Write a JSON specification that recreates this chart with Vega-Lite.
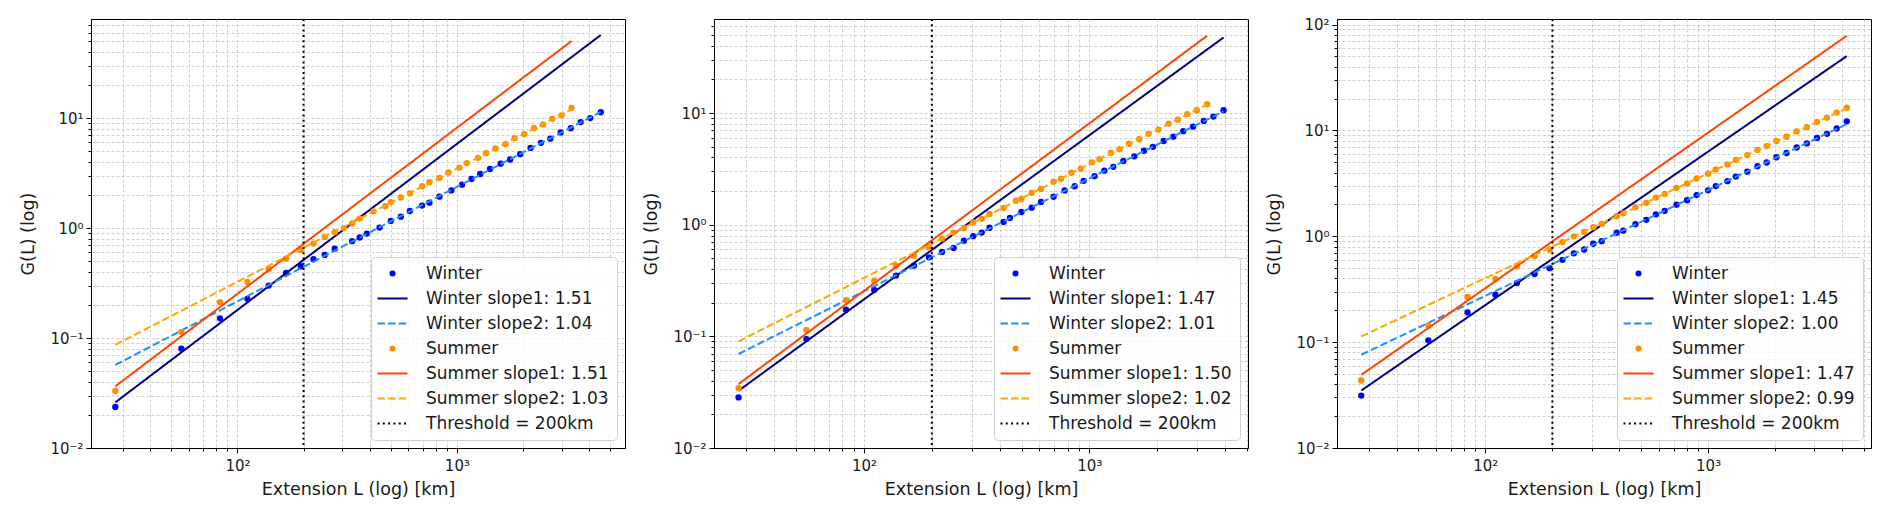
{
  "$schema": "https://vega.github.io/schema/vega-lite/v6.json",
  "padding": {"left": 19, "top": 17, "right": 5, "bottom": 5},
  "background": "white",
  "spacing": 89,
  "bounds": "flush",
  "resolve": {"scale": {"color": "independent", "strokeDash": "independent", "x": "independent", "y": "independent"}, "legend": {"color": "independent"}},
  "datasets": {
    "pts": [
      {"p":1,"s":"Winter","L":27.75,"G":0.0236},{"p":1,"s":"Winter","L":55.5,"G":0.080},{"p":1,"s":"Winter","L":83.25,"G":0.151},{"p":1,"s":"Winter","L":111,"G":0.227},{"p":1,"s":"Winter","L":138.75,"G":0.30},{"p":1,"s":"Winter","L":166.5,"G":0.39},{"p":1,"s":"Winter","L":194.25,"G":0.45},{"p":1,"s":"Winter","L":222,"G":0.52},{"p":1,"s":"Winter","L":249.75,"G":0.57},{"p":1,"s":"Winter","L":277.5,"G":0.65},{"p":1,"s":"Winter","L":333,"G":0.76},{"p":1,"s":"Winter","L":360.75,"G":0.82},{"p":1,"s":"Winter","L":388.5,"G":0.89},{"p":1,"s":"Winter","L":444,"G":1.01},{"p":1,"s":"Winter","L":499.5,"G":1.16},{"p":1,"s":"Winter","L":555,"G":1.27},{"p":1,"s":"Winter","L":610.5,"G":1.43},{"p":1,"s":"Winter","L":693.75,"G":1.60},{"p":1,"s":"Winter","L":749.25,"G":1.70},{"p":1,"s":"Winter","L":832.5,"G":1.93},{"p":1,"s":"Winter","L":943.5,"G":2.20},{"p":1,"s":"Winter","L":1054.5,"G":2.48},{"p":1,"s":"Winter","L":1165.5,"G":2.80},{"p":1,"s":"Winter","L":1276.5,"G":3.10},{"p":1,"s":"Winter","L":1415.25,"G":3.45},{"p":1,"s":"Winter","L":1581.75,"G":3.85},{"p":1,"s":"Winter","L":1748.25,"G":4.20},{"p":1,"s":"Winter","L":1942.5,"G":4.70},{"p":1,"s":"Winter","L":2164.5,"G":5.35},{"p":1,"s":"Winter","L":2414.25,"G":5.95},{"p":1,"s":"Winter","L":2664,"G":6.50},{"p":1,"s":"Winter","L":2969.25,"G":7.40},{"p":1,"s":"Winter","L":3302.25,"G":8.10},{"p":1,"s":"Winter","L":3663,"G":9.20},{"p":1,"s":"Winter","L":4051.5,"G":10.0},{"p":1,"s":"Winter","L":4523.25,"G":11.3},
      {"p":1,"s":"Summer","L":27.75,"G":0.033},{"p":1,"s":"Summer","L":55.5,"G":0.113},{"p":1,"s":"Summer","L":83.25,"G":0.212},{"p":1,"s":"Summer","L":111,"G":0.323},{"p":1,"s":"Summer","L":138.75,"G":0.426},{"p":1,"s":"Summer","L":166.5,"G":0.528},{"p":1,"s":"Summer","L":194.25,"G":0.63},{"p":1,"s":"Summer","L":222,"G":0.723},{"p":1,"s":"Summer","L":249.75,"G":0.827},{"p":1,"s":"Summer","L":277.5,"G":0.918},{"p":1,"s":"Summer","L":305.25,"G":1.00},{"p":1,"s":"Summer","L":333,"G":1.10},{"p":1,"s":"Summer","L":360.75,"G":1.22},{"p":1,"s":"Summer","L":416.25,"G":1.42},{"p":1,"s":"Summer","L":471.75,"G":1.58},{"p":1,"s":"Summer","L":499.5,"G":1.72},{"p":1,"s":"Summer","L":555,"G":1.90},{"p":1,"s":"Summer","L":610.5,"G":2.07},{"p":1,"s":"Summer","L":693.75,"G":2.40},{"p":1,"s":"Summer","L":749.25,"G":2.61},{"p":1,"s":"Summer","L":832.5,"G":2.85},{"p":1,"s":"Summer","L":915.75,"G":3.20},{"p":1,"s":"Summer","L":1026.75,"G":3.55},{"p":1,"s":"Summer","L":1110,"G":3.90},{"p":1,"s":"Summer","L":1248.75,"G":4.35},{"p":1,"s":"Summer","L":1359.75,"G":4.80},{"p":1,"s":"Summer","L":1498.5,"G":5.30},{"p":1,"s":"Summer","L":1665,"G":5.80},{"p":1,"s":"Summer","L":1831.5,"G":6.55},{"p":1,"s":"Summer","L":2025.75,"G":7.15},{"p":1,"s":"Summer","L":2247.75,"G":8.10},{"p":1,"s":"Summer","L":2469.75,"G":8.75},{"p":1,"s":"Summer","L":2719.5,"G":9.85},{"p":1,"s":"Summer","L":2997,"G":10.6},{"p":1,"s":"Summer","L":3330,"G":12.4},
      {"p":2,"s":"Winter","L":27.75,"G":0.0284},{"p":2,"s":"Winter","L":55.5,"G":0.0946},{"p":2,"s":"Winter","L":83.25,"G":0.173},{"p":2,"s":"Winter","L":111,"G":0.26},{"p":2,"s":"Winter","L":138.75,"G":0.35},{"p":2,"s":"Winter","L":166.5,"G":0.43},{"p":2,"s":"Winter","L":194.25,"G":0.51},{"p":2,"s":"Winter","L":222,"G":0.57},{"p":2,"s":"Winter","L":249.75,"G":0.62},{"p":2,"s":"Winter","L":277.5,"G":0.72},{"p":2,"s":"Winter","L":305.25,"G":0.79},{"p":2,"s":"Winter","L":333,"G":0.85},{"p":2,"s":"Winter","L":360.75,"G":0.94},{"p":2,"s":"Winter","L":416.25,"G":1.06},{"p":2,"s":"Winter","L":444,"G":1.15},{"p":2,"s":"Winter","L":499.5,"G":1.30},{"p":2,"s":"Winter","L":555,"G":1.42},{"p":2,"s":"Winter","L":610.5,"G":1.60},{"p":2,"s":"Winter","L":693.75,"G":1.78},{"p":2,"s":"Winter","L":777,"G":2.03},{"p":2,"s":"Winter","L":860.25,"G":2.21},{"p":2,"s":"Winter","L":943.5,"G":2.47},{"p":2,"s":"Winter","L":1054.5,"G":2.72},{"p":2,"s":"Winter","L":1165.5,"G":3.05},{"p":2,"s":"Winter","L":1276.5,"G":3.30},{"p":2,"s":"Winter","L":1415.25,"G":3.72},{"p":2,"s":"Winter","L":1581.75,"G":4.10},{"p":2,"s":"Winter","L":1748.25,"G":4.60},{"p":2,"s":"Winter","L":1914.75,"G":4.98},{"p":2,"s":"Winter","L":2136.75,"G":5.62},{"p":2,"s":"Winter","L":2358.75,"G":6.15},{"p":2,"s":"Winter","L":2608.5,"G":6.88},{"p":2,"s":"Winter","L":2886,"G":7.55},{"p":2,"s":"Winter","L":3219,"G":8.50},{"p":2,"s":"Winter","L":3552,"G":9.30},{"p":2,"s":"Winter","L":3940.5,"G":10.6},
      {"p":2,"s":"Summer","L":27.75,"G":0.0344},{"p":2,"s":"Summer","L":55.5,"G":0.114},{"p":2,"s":"Summer","L":83.25,"G":0.211},{"p":2,"s":"Summer","L":111,"G":0.315},{"p":2,"s":"Summer","L":138.75,"G":0.43},{"p":2,"s":"Summer","L":166.5,"G":0.528},{"p":2,"s":"Summer","L":194.25,"G":0.627},{"p":2,"s":"Summer","L":222,"G":0.75},{"p":2,"s":"Summer","L":249.75,"G":0.85},{"p":2,"s":"Summer","L":277.5,"G":0.93},{"p":2,"s":"Summer","L":305.25,"G":1.05},{"p":2,"s":"Summer","L":333,"G":1.13},{"p":2,"s":"Summer","L":360.75,"G":1.25},{"p":2,"s":"Summer","L":416.25,"G":1.41},{"p":2,"s":"Summer","L":471.75,"G":1.64},{"p":2,"s":"Summer","L":499.5,"G":1.70},{"p":2,"s":"Summer","L":555,"G":1.93},{"p":2,"s":"Summer","L":610.5,"G":2.09},{"p":2,"s":"Summer","L":693.75,"G":2.43},{"p":2,"s":"Summer","L":749.25,"G":2.58},{"p":2,"s":"Summer","L":832.5,"G":2.92},{"p":2,"s":"Summer","L":915.75,"G":3.17},{"p":2,"s":"Summer","L":1026.75,"G":3.62},{"p":2,"s":"Summer","L":1110,"G":3.86},{"p":2,"s":"Summer","L":1248.75,"G":4.41},{"p":2,"s":"Summer","L":1359.75,"G":4.74},{"p":2,"s":"Summer","L":1498.5,"G":5.31},{"p":2,"s":"Summer","L":1665,"G":5.83},{"p":2,"s":"Summer","L":1831.5,"G":6.52},{"p":2,"s":"Summer","L":2025.75,"G":7.12},{"p":2,"s":"Summer","L":2247.75,"G":8.05},{"p":2,"s":"Summer","L":2469.75,"G":8.72},{"p":2,"s":"Summer","L":2719.5,"G":9.80},{"p":2,"s":"Summer","L":2997,"G":10.6},{"p":2,"s":"Summer","L":3330,"G":12.0},
      {"p":3,"s":"Winter","L":27.75,"G":0.0313},{"p":3,"s":"Winter","L":55.5,"G":0.104},{"p":3,"s":"Winter","L":83.25,"G":0.191},{"p":3,"s":"Winter","L":111,"G":0.281},{"p":3,"s":"Winter","L":138.75,"G":0.362},{"p":3,"s":"Winter","L":166.5,"G":0.44},{"p":3,"s":"Winter","L":194.25,"G":0.50},{"p":3,"s":"Winter","L":222,"G":0.60},{"p":3,"s":"Winter","L":249.75,"G":0.69},{"p":3,"s":"Winter","L":277.5,"G":0.75},{"p":3,"s":"Winter","L":305.25,"G":0.85},{"p":3,"s":"Winter","L":333,"G":0.90},{"p":3,"s":"Winter","L":388.5,"G":1.08},{"p":3,"s":"Winter","L":416.25,"G":1.13},{"p":3,"s":"Winter","L":471.75,"G":1.30},{"p":3,"s":"Winter","L":527.25,"G":1.43},{"p":3,"s":"Winter","L":582.75,"G":1.61},{"p":3,"s":"Winter","L":638.25,"G":1.74},{"p":3,"s":"Winter","L":721.5,"G":1.99},{"p":3,"s":"Winter","L":804.75,"G":2.19},{"p":3,"s":"Winter","L":888,"G":2.45},{"p":3,"s":"Winter","L":999,"G":2.72},{"p":3,"s":"Winter","L":1082.25,"G":2.98},{"p":3,"s":"Winter","L":1221,"G":3.32},{"p":3,"s":"Winter","L":1332,"G":3.67},{"p":3,"s":"Winter","L":1498.5,"G":4.08},{"p":3,"s":"Winter","L":1665,"G":4.60},{"p":3,"s":"Winter","L":1831.5,"G":4.98},{"p":3,"s":"Winter","L":2025.75,"G":5.58},{"p":3,"s":"Winter","L":2247.75,"G":6.12},{"p":3,"s":"Winter","L":2497.5,"G":6.90},{"p":3,"s":"Winter","L":2775,"G":7.55},{"p":3,"s":"Winter","L":3080.25,"G":8.50},{"p":3,"s":"Winter","L":3413.25,"G":9.30},{"p":3,"s":"Winter","L":3774,"G":10.45},{"p":3,"s":"Winter","L":4190.25,"G":12.2},
      {"p":3,"s":"Summer","L":27.75,"G":0.0434},{"p":3,"s":"Summer","L":55.5,"G":0.144},{"p":3,"s":"Summer","L":83.25,"G":0.267},{"p":3,"s":"Summer","L":111,"G":0.395},{"p":3,"s":"Summer","L":138.75,"G":0.521},{"p":3,"s":"Summer","L":166.5,"G":0.648},{"p":3,"s":"Summer","L":194.25,"G":0.75},{"p":3,"s":"Summer","L":222,"G":0.88},{"p":3,"s":"Summer","L":249.75,"G":1.00},{"p":3,"s":"Summer","L":277.5,"G":1.10},{"p":3,"s":"Summer","L":305.25,"G":1.22},{"p":3,"s":"Summer","L":333,"G":1.31},{"p":3,"s":"Summer","L":388.5,"G":1.55},{"p":3,"s":"Summer","L":416.25,"G":1.65},{"p":3,"s":"Summer","L":471.75,"G":1.88},{"p":3,"s":"Summer","L":527.25,"G":2.07},{"p":3,"s":"Summer","L":582.75,"G":2.32},{"p":3,"s":"Summer","L":638.25,"G":2.51},{"p":3,"s":"Summer","L":721.5,"G":2.87},{"p":3,"s":"Summer","L":804.75,"G":3.15},{"p":3,"s":"Summer","L":888,"G":3.52},{"p":3,"s":"Summer","L":999,"G":3.90},{"p":3,"s":"Summer","L":1082.25,"G":4.28},{"p":3,"s":"Summer","L":1221,"G":4.77},{"p":3,"s":"Summer","L":1332,"G":5.26},{"p":3,"s":"Summer","L":1498.5,"G":5.84},{"p":3,"s":"Summer","L":1665,"G":6.55},{"p":3,"s":"Summer","L":1831.5,"G":7.12},{"p":3,"s":"Summer","L":2025.75,"G":7.95},{"p":3,"s":"Summer","L":2247.75,"G":8.72},{"p":3,"s":"Summer","L":2497.5,"G":9.80},{"p":3,"s":"Summer","L":2775,"G":10.75},{"p":3,"s":"Summer","L":3080.25,"G":12.05},{"p":3,"s":"Summer","L":3413.25,"G":13.2},{"p":3,"s":"Summer","L":3774,"G":14.75},{"p":3,"s":"Summer","L":4190.25,"G":16.4}
    ],
    "fits": [
      {"p":1,"season":"W","kind":"s1","s":"Winter slope1: 1.51","L":27.75,"G":0.026},{"p":1,"season":"W","kind":"s1","s":"Winter slope1: 1.51","L":4523.25,"G":56.9},
      {"p":1,"season":"W","kind":"s2","s":"Winter slope2: 1.04","L":27.75,"G":0.0569},{"p":1,"season":"W","kind":"s2","s":"Winter slope2: 1.04","L":4523.25,"G":11.37},
      {"p":1,"season":"S","kind":"s1","s":"Summer slope1: 1.51","L":27.75,"G":0.0364},{"p":1,"season":"S","kind":"s1","s":"Summer slope1: 1.51","L":3330,"G":50.2},
      {"p":1,"season":"S","kind":"s2","s":"Summer slope2: 1.03","L":27.75,"G":0.0867},{"p":1,"season":"S","kind":"s2","s":"Summer slope2: 1.03","L":3330,"G":12.0},
      {"p":2,"season":"W","kind":"s1","s":"Winter slope1: 1.47","L":27.75,"G":0.0326},{"p":2,"season":"W","kind":"s1","s":"Winter slope1: 1.47","L":3940.5,"G":47.5},
      {"p":2,"season":"W","kind":"s2","s":"Winter slope2: 1.01","L":27.75,"G":0.0695},{"p":2,"season":"W","kind":"s2","s":"Winter slope2: 1.01","L":3940.5,"G":10.37},
      {"p":2,"season":"S","kind":"s1","s":"Summer slope1: 1.50","L":27.75,"G":0.0374},{"p":2,"season":"S","kind":"s1","s":"Summer slope1: 1.50","L":3330,"G":49.2},
      {"p":2,"season":"S","kind":"s2","s":"Summer slope2: 1.02","L":27.75,"G":0.0902},{"p":2,"season":"S","kind":"s2","s":"Summer slope2: 1.02","L":3330,"G":11.91},
      {"p":3,"season":"W","kind":"s1","s":"Winter slope1: 1.45","L":27.75,"G":0.0349},{"p":3,"season":"W","kind":"s1","s":"Winter slope1: 1.45","L":4190.25,"G":50.4},
      {"p":3,"season":"W","kind":"s2","s":"Winter slope2: 1.00","L":27.75,"G":0.076},{"p":3,"season":"W","kind":"s2","s":"Winter slope2: 1.00","L":4190.25,"G":11.48},
      {"p":3,"season":"S","kind":"s1","s":"Summer slope1: 1.47","L":27.75,"G":0.0491},{"p":3,"season":"S","kind":"s1","s":"Summer slope1: 1.47","L":4190.25,"G":78.4},
      {"p":3,"season":"S","kind":"s2","s":"Summer slope2: 0.99","L":27.75,"G":0.1132},{"p":3,"season":"S","kind":"s2","s":"Summer slope2: 0.99","L":4190.25,"G":16.26}
    ],
    "threshold": [{"L": 200, "s": "Threshold = 200km"}]
  },
  "hconcat": [
    {
      "width": 534,
      "height": 429,
      "encoding": {
        "x": {"field": "L", "type": "quantitative", "scale": {"type": "log", "domain": [21.5, 5834], "nice": false},
          "axis": {"title": "Extension L (log) [km]", "grid": true, "values": [30,40,50,60,70,80,90,100,200,300,400,500,600,700,800,900,1000,2000,3000,4000,5000],
            "labelExpr": "abs(log(datum.value)/LN10 - round(log(datum.value)/LN10)) < 0.001 ? '10' + ['⁻²','⁻¹','⁰','¹','²','³','⁴'][round(log(datum.value)/LN10) + 2] : ''",
            "tickSize": {"condition": {"test": "abs(log(datum.value)/LN10 - round(log(datum.value)/LN10)) < 0.001", "value": 5}, "value": 3}}},
        "color": {"field": "s", "type": "nominal",
          "scale": {"domain": ["Winter", "Winter slope1: 1.51", "Winter slope2: 1.04", "Summer", "Summer slope1: 1.51", "Summer slope2: 1.03", "Threshold = 200km"],
            "range": ["#0000ff", "#000080", "#1e90ff", "#ff8c00", "#ff4500", "#ffa500", "#000000"]},
          "legend": {"title": null, "orient": "bottom-right", "offset": 8,
            "encode": {"symbols": {"update": {
              "shape": {"signal": "(datum.value == 'Winter' || datum.value == 'Summer') ? 'circle' : 'stroke'"},
              "size": {"signal": "(datum.value == 'Winter' || datum.value == 'Summer') ? 36 : 900"},
              "fill": {"signal": "datum.value == 'Winter' ? '#0000ff' : datum.value == 'Summer' ? '#ff8c00' : 'transparent'"},
              "stroke": {"signal": "indexof(datum.value, 'Winter slope1') >= 0 ? '#000080' : indexof(datum.value, 'Winter slope2') >= 0 ? '#1e90ff' : indexof(datum.value, 'Summer slope1') >= 0 ? '#ff4500' : indexof(datum.value, 'Summer slope2') >= 0 ? '#ffa500' : datum.value == 'Winter' ? '#0000ff' : datum.value == 'Summer' ? '#ff8c00' : '#000000'"},
              "strokeDash": {"signal": "indexof(datum.value, 'slope2') >= 0 ? [7.4, 3.2] : indexof(datum.value, 'Threshold') >= 0 ? [2, 3.3] : [1, 0]"},
              "strokeWidth": {"signal": "(datum.value == 'Winter' || datum.value == 'Summer') ? 0 : 2"},
              "opacity": {"value": 1}
            }}}}}
      },
      "layer": [
        {"data": {"name": "pts"}, "transform": [{"filter": "datum.p == 1 && datum.s == 'Winter'"}],
          "mark": {"type": "point", "filled": true, "size": 40, "opacity": 1},
          "encoding": {"y": {"field": "G", "type": "quantitative", "scale": {"type": "log", "domain": [0.01, 79.6], "nice": false},
            "axis": {"title": "G(L) (log)", "grid": true, "values": [0.01,0.02,0.03,0.04,0.05,0.06,0.07,0.08,0.09,0.1,0.2,0.3,0.4,0.5,0.6,0.7,0.8,0.9,1,2,3,4,5,6,7,8,9,10,20,30,40,50,60,70],
              "labelExpr": "abs(log(datum.value)/LN10 - round(log(datum.value)/LN10)) < 0.001 ? '10' + ['⁻²','⁻¹','⁰','¹','²','³','⁴'][round(log(datum.value)/LN10) + 2] : ''",
              "tickSize": {"condition": {"test": "abs(log(datum.value)/LN10 - round(log(datum.value)/LN10)) < 0.001", "value": 5}, "value": 3}}}}},
        {"data": {"name": "fits"}, "transform": [{"filter": "datum.p == 1 && datum.season == 'W'"}],
          "mark": {"type": "line", "strokeWidth": 2},
          "encoding": {"y": {"field": "G", "type": "quantitative"},
            "strokeDash": {"field": "kind", "type": "nominal", "scale": {"domain": ["s1", "s2"], "range": [[1, 0], [7.4, 3.2]]}, "legend": null}}},
        {"data": {"name": "pts"}, "transform": [{"filter": "datum.p == 1 && datum.s == 'Summer'"}],
          "mark": {"type": "point", "filled": true, "size": 40, "opacity": 1},
          "encoding": {"y": {"field": "G", "type": "quantitative"}}},
        {"data": {"name": "fits"}, "transform": [{"filter": "datum.p == 1 && datum.season == 'S'"}],
          "mark": {"type": "line", "strokeWidth": 2},
          "encoding": {"y": {"field": "G", "type": "quantitative"},
            "strokeDash": {"field": "kind", "type": "nominal", "scale": {"domain": ["s1", "s2"], "range": [[1, 0], [7.4, 3.2]]}, "legend": null}}},
        {"data": {"name": "threshold"}, "mark": {"type": "rule", "strokeWidth": 2, "strokeDash": [2, 3.3]}, "encoding": {}}
      ]
    },
    {
      "width": 534,
      "height": 429,
      "encoding": {
        "x": {"field": "L", "type": "quantitative", "scale": {"type": "log", "domain": [21.6, 5058], "nice": false},
          "axis": {"title": "Extension L (log) [km]", "grid": true, "values": [30,40,50,60,70,80,90,100,200,300,400,500,600,700,800,900,1000,2000,3000,4000,5000],
            "labelExpr": "abs(log(datum.value)/LN10 - round(log(datum.value)/LN10)) < 0.001 ? '10' + ['⁻²','⁻¹','⁰','¹','²','³','⁴'][round(log(datum.value)/LN10) + 2] : ''",
            "tickSize": {"condition": {"test": "abs(log(datum.value)/LN10 - round(log(datum.value)/LN10)) < 0.001", "value": 5}, "value": 3}}},
        "color": {"field": "s", "type": "nominal",
          "scale": {"domain": ["Winter", "Winter slope1: 1.47", "Winter slope2: 1.01", "Summer", "Summer slope1: 1.50", "Summer slope2: 1.02", "Threshold = 200km"],
            "range": ["#0000ff", "#000080", "#1e90ff", "#ff8c00", "#ff4500", "#ffa500", "#000000"]},
          "legend": {"title": null, "orient": "bottom-right", "offset": 8,
            "encode": {"symbols": {"update": {
              "shape": {"signal": "(datum.value == 'Winter' || datum.value == 'Summer') ? 'circle' : 'stroke'"},
              "size": {"signal": "(datum.value == 'Winter' || datum.value == 'Summer') ? 36 : 900"},
              "fill": {"signal": "datum.value == 'Winter' ? '#0000ff' : datum.value == 'Summer' ? '#ff8c00' : 'transparent'"},
              "stroke": {"signal": "indexof(datum.value, 'Winter slope1') >= 0 ? '#000080' : indexof(datum.value, 'Winter slope2') >= 0 ? '#1e90ff' : indexof(datum.value, 'Summer slope1') >= 0 ? '#ff4500' : indexof(datum.value, 'Summer slope2') >= 0 ? '#ffa500' : datum.value == 'Winter' ? '#0000ff' : datum.value == 'Summer' ? '#ff8c00' : '#000000'"},
              "strokeDash": {"signal": "indexof(datum.value, 'slope2') >= 0 ? [7.4, 3.2] : indexof(datum.value, 'Threshold') >= 0 ? [2, 3.3] : [1, 0]"},
              "strokeWidth": {"signal": "(datum.value == 'Winter' || datum.value == 'Summer') ? 0 : 2"},
              "opacity": {"value": 1}
            }}}}}
      },
      "layer": [
        {"data": {"name": "pts"}, "transform": [{"filter": "datum.p == 2 && datum.s == 'Winter'"}],
          "mark": {"type": "point", "filled": true, "size": 40, "opacity": 1},
          "encoding": {"y": {"field": "G", "type": "quantitative", "scale": {"type": "log", "domain": [0.01, 69.6], "nice": false},
            "axis": {"title": "G(L) (log)", "grid": true, "values": [0.01,0.02,0.03,0.04,0.05,0.06,0.07,0.08,0.09,0.1,0.2,0.3,0.4,0.5,0.6,0.7,0.8,0.9,1,2,3,4,5,6,7,8,9,10,20,30,40,50,60],
              "labelExpr": "abs(log(datum.value)/LN10 - round(log(datum.value)/LN10)) < 0.001 ? '10' + ['⁻²','⁻¹','⁰','¹','²','³','⁴'][round(log(datum.value)/LN10) + 2] : ''",
              "tickSize": {"condition": {"test": "abs(log(datum.value)/LN10 - round(log(datum.value)/LN10)) < 0.001", "value": 5}, "value": 3}}}}},
        {"data": {"name": "fits"}, "transform": [{"filter": "datum.p == 2 && datum.season == 'W'"}],
          "mark": {"type": "line", "strokeWidth": 2},
          "encoding": {"y": {"field": "G", "type": "quantitative"},
            "strokeDash": {"field": "kind", "type": "nominal", "scale": {"domain": ["s1", "s2"], "range": [[1, 0], [7.4, 3.2]]}, "legend": null}}},
        {"data": {"name": "pts"}, "transform": [{"filter": "datum.p == 2 && datum.s == 'Summer'"}],
          "mark": {"type": "point", "filled": true, "size": 40, "opacity": 1},
          "encoding": {"y": {"field": "G", "type": "quantitative"}}},
        {"data": {"name": "fits"}, "transform": [{"filter": "datum.p == 2 && datum.season == 'S'"}],
          "mark": {"type": "line", "strokeWidth": 2},
          "encoding": {"y": {"field": "G", "type": "quantitative"},
            "strokeDash": {"field": "kind", "type": "nominal", "scale": {"domain": ["s1", "s2"], "range": [[1, 0], [7.4, 3.2]]}, "legend": null}}},
        {"data": {"name": "threshold"}, "mark": {"type": "rule", "strokeWidth": 2, "strokeDash": [2, 3.3]}, "encoding": {}}
      ]
    },
    {
      "width": 534,
      "height": 429,
      "encoding": {
        "x": {"field": "L", "type": "quantitative", "scale": {"type": "log", "domain": [21.6, 5383], "nice": false},
          "axis": {"title": "Extension L (log) [km]", "grid": true, "values": [30,40,50,60,70,80,90,100,200,300,400,500,600,700,800,900,1000,2000,3000,4000,5000],
            "labelExpr": "abs(log(datum.value)/LN10 - round(log(datum.value)/LN10)) < 0.001 ? '10' + ['⁻²','⁻¹','⁰','¹','²','³','⁴'][round(log(datum.value)/LN10) + 2] : ''",
            "tickSize": {"condition": {"test": "abs(log(datum.value)/LN10 - round(log(datum.value)/LN10)) < 0.001", "value": 5}, "value": 3}}},
        "color": {"field": "s", "type": "nominal",
          "scale": {"domain": ["Winter", "Winter slope1: 1.45", "Winter slope2: 1.00", "Summer", "Summer slope1: 1.47", "Summer slope2: 0.99", "Threshold = 200km"],
            "range": ["#0000ff", "#000080", "#1e90ff", "#ff8c00", "#ff4500", "#ffa500", "#000000"]},
          "legend": {"title": null, "orient": "bottom-right", "offset": 8,
            "encode": {"symbols": {"update": {
              "shape": {"signal": "(datum.value == 'Winter' || datum.value == 'Summer') ? 'circle' : 'stroke'"},
              "size": {"signal": "(datum.value == 'Winter' || datum.value == 'Summer') ? 36 : 900"},
              "fill": {"signal": "datum.value == 'Winter' ? '#0000ff' : datum.value == 'Summer' ? '#ff8c00' : 'transparent'"},
              "stroke": {"signal": "indexof(datum.value, 'Winter slope1') >= 0 ? '#000080' : indexof(datum.value, 'Winter slope2') >= 0 ? '#1e90ff' : indexof(datum.value, 'Summer slope1') >= 0 ? '#ff4500' : indexof(datum.value, 'Summer slope2') >= 0 ? '#ffa500' : datum.value == 'Winter' ? '#0000ff' : datum.value == 'Summer' ? '#ff8c00' : '#000000'"},
              "strokeDash": {"signal": "indexof(datum.value, 'slope2') >= 0 ? [7.4, 3.2] : indexof(datum.value, 'Threshold') >= 0 ? [2, 3.3] : [1, 0]"},
              "strokeWidth": {"signal": "(datum.value == 'Winter' || datum.value == 'Summer') ? 0 : 2"},
              "opacity": {"value": 1}
            }}}}}
      },
      "layer": [
        {"data": {"name": "pts"}, "transform": [{"filter": "datum.p == 3 && datum.s == 'Winter'"}],
          "mark": {"type": "point", "filled": true, "size": 40, "opacity": 1},
          "encoding": {"y": {"field": "G", "type": "quantitative", "scale": {"type": "log", "domain": [0.01, 113], "nice": false},
            "axis": {"title": "G(L) (log)", "grid": true, "values": [0.01,0.02,0.03,0.04,0.05,0.06,0.07,0.08,0.09,0.1,0.2,0.3,0.4,0.5,0.6,0.7,0.8,0.9,1,2,3,4,5,6,7,8,9,10,20,30,40,50,60,70,80,90,100],
              "labelExpr": "abs(log(datum.value)/LN10 - round(log(datum.value)/LN10)) < 0.001 ? '10' + ['⁻²','⁻¹','⁰','¹','²','³','⁴'][round(log(datum.value)/LN10) + 2] : ''",
              "tickSize": {"condition": {"test": "abs(log(datum.value)/LN10 - round(log(datum.value)/LN10)) < 0.001", "value": 5}, "value": 3}}}}},
        {"data": {"name": "fits"}, "transform": [{"filter": "datum.p == 3 && datum.season == 'W'"}],
          "mark": {"type": "line", "strokeWidth": 2},
          "encoding": {"y": {"field": "G", "type": "quantitative"},
            "strokeDash": {"field": "kind", "type": "nominal", "scale": {"domain": ["s1", "s2"], "range": [[1, 0], [7.4, 3.2]]}, "legend": null}}},
        {"data": {"name": "pts"}, "transform": [{"filter": "datum.p == 3 && datum.s == 'Summer'"}],
          "mark": {"type": "point", "filled": true, "size": 40, "opacity": 1},
          "encoding": {"y": {"field": "G", "type": "quantitative"}}},
        {"data": {"name": "fits"}, "transform": [{"filter": "datum.p == 3 && datum.season == 'S'"}],
          "mark": {"type": "line", "strokeWidth": 2},
          "encoding": {"y": {"field": "G", "type": "quantitative"},
            "strokeDash": {"field": "kind", "type": "nominal", "scale": {"domain": ["s1", "s2"], "range": [[1, 0], [7.4, 3.2]]}, "legend": null}}},
        {"data": {"name": "threshold"}, "mark": {"type": "rule", "strokeWidth": 2, "strokeDash": [2, 3.3]}, "encoding": {}}
      ]
    }
  ],
  "config": {
    "font": "DejaVu Sans",
    "view": {"stroke": "black", "strokeWidth": 1},
    "axis": {
      "labelFont": "DejaVu Sans", "labelFontSize": 15, "labelColor": "#1a1a1a",
      "titleFont": "DejaVu Sans", "titleFontSize": 17.5, "titleFontWeight": "normal", "titleColor": "#1a1a1a",
      "domainColor": "black", "domainWidth": 1, "tickColor": "black", "tickWidth": 1,
      "gridColor": "#c4c4c4", "gridDash": [3, 2], "gridWidth": 0.8,
      "labelOverlap": false, "labelFlush": false, "labelPadding": 3
    },
    "axisX": {"titlePadding": 7, "labelPadding": 5},
    "axisY": {"titlePadding": 12},
    "legend": {
      "labelFont": "DejaVu Sans", "labelFontSize": 17, "labelColor": "#1a1a1a", "labelLimit": 400,
      "symbolSize": 400, "symbolStrokeWidth": 2, "symbolOffset": 5, "labelOffset": 25,
      "rowPadding": 7, "padding": 8,
      "fillColor": "rgba(255,255,255,0.85)", "strokeColor": "#d0d0d0", "cornerRadius": 4
    }
  }
}
